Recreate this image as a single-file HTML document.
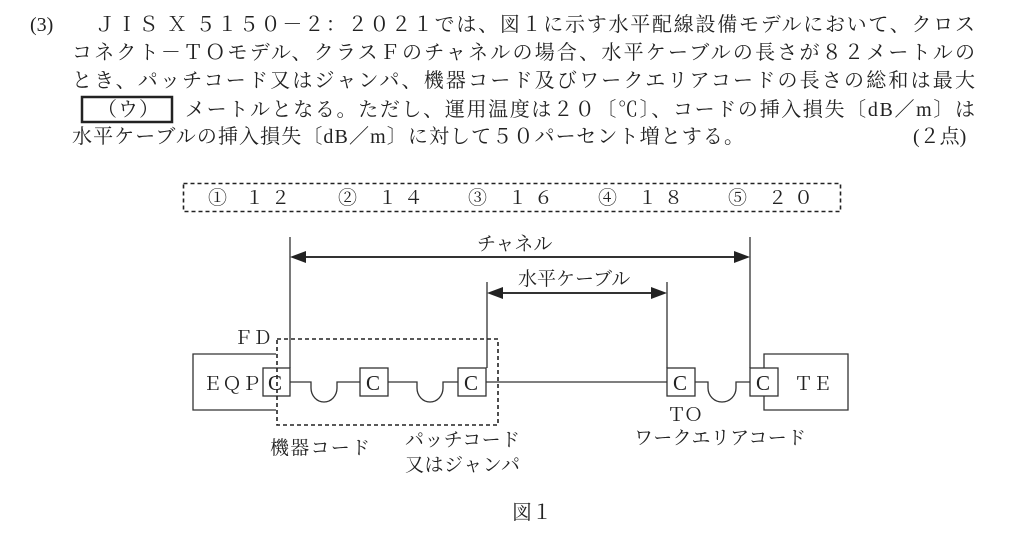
<!DOCTYPE html>
<html><head><meta charset="utf-8"><style>
html,body{margin:0;padding:0;background:#fff;width:1024px;height:541px;overflow:hidden}
svg{display:block}
text{font-family:"Liberation Serif","Noto Serif CJK SC","Noto Sans CJK JP",serif;fill:#222}
</style></head><body>
<svg width="1024" height="541" viewBox="0 0 1024 541" xmlns="http://www.w3.org/2000/svg">
<g font-size="20">
<text x="30" y="31">(3)</text>
<text x="95" y="31" textLength="880" lengthAdjust="spacing">ＪＩＳ Ｘ ５１５０－２：２０２１では、図１に示す水平配線設備モデルにおいて、クロス</text>
<text x="72" y="59" textLength="903" lengthAdjust="spacing">コネクト－ＴＯモデル、クラスＦのチャネルの場合、水平ケーブルの長さが８２メートルの</text>
<text x="72" y="87" textLength="903" lengthAdjust="spacing">とき、パッチコード又はジャンパ、機器コード及びワークエリアコードの長さの総和は最大</text>
<rect x="82" y="97" width="90" height="25" fill="none" stroke="#222" stroke-width="2.5"/>
<text x="97" y="116" textLength="62" lengthAdjust="spacing">（ウ）</text>
<text x="185" y="116" textLength="790" lengthAdjust="spacing">メートルとなる。ただし、運用温度は２０〔℃〕、コードの挿入損失〔dB／m〕は</text>
<text x="72" y="143" textLength="672" lengthAdjust="spacing">水平ケーブルの挿入損失〔dB／m〕に対して５０パーセント増とする。</text>
<text x="913" y="143">(２点)</text>
</g>
<rect x="183.5" y="183.5" width="657" height="28" fill="none" stroke="#222" stroke-width="1.6" stroke-dasharray="4,3"/>
<g font-size="19">
<text x="208" y="204">①</text><text x="245" y="204" textLength="45">１２</text>
<text x="338" y="204">②</text><text x="378" y="204" textLength="45">１４</text>
<text x="468" y="204">③</text><text x="508" y="204" textLength="45">１６</text>
<text x="598" y="204">④</text><text x="638" y="204" textLength="45">１８</text>
<text x="728" y="204">⑤</text><text x="768" y="204" textLength="45">２０</text>
</g>
<g stroke="#333" stroke-width="1.3" fill="none">
<line x1="290" y1="237" x2="290" y2="368"/>
<line x1="750" y1="237" x2="750" y2="368"/>
<line x1="487" y1="282" x2="487" y2="368"/>
<line x1="667" y1="282" x2="667" y2="368"/>
<line x1="300" y1="257" x2="740" y2="257" stroke-width="2"/>
<line x1="497" y1="293" x2="657" y2="293" stroke-width="2"/>
<path d="M276,354 H193 V410 H276"/>
<path d="M764,368 V354 H848 V410 H764 V396"/>
<rect x="263" y="368" width="27" height="28"/>
<rect x="360" y="368" width="28" height="28"/>
<rect x="458" y="368" width="28" height="28"/>
<rect x="667" y="368" width="28" height="28"/>
<rect x="750" y="368" width="28" height="28"/>
<path d="M290,382 H311 V388 A13,14 0 0 0 337,388 V382 H360"/>
<path d="M388,382 H417 V388 A13,14 0 0 0 443,388 V382 H458"/>
<path d="M486,382 H667"/>
<path d="M695,382 H708 V388 A14,14 0 0 0 736,388 V382 H750"/>
<rect x="277" y="339" width="221" height="86" stroke-dasharray="4,3" stroke-width="1.6" stroke="#222"/>
</g>
<g fill="#222">
<polygon points="290,257 306,251 306,263"/>
<polygon points="750,257 734,251 734,263"/>
<polygon points="487,293 503,287 503,299"/>
<polygon points="667,293 651,287 651,299"/>
</g>
<g font-size="19">
<text x="477" y="250">チャネル</text>
<text x="518" y="285">水平ケーブル</text>
<text x="234" y="344" textLength="38">ＦＤ</text>
<text x="203" y="390" textLength="58">ＥＱＰ</text>
</g>
<g font-size="21">
<text x="268" y="390">C</text><text x="366" y="390">C</text><text x="464" y="390">C</text>
<text x="673" y="390">C</text><text x="756" y="390">C</text>
</g>
<g font-size="19">
<text x="794" y="390" textLength="38">ＴＥ</text>
<text x="667" y="421" textLength="36">ＴＯ</text>
<text x="270" y="454" textLength="100">機器コード</text>
<text x="405" y="446" textLength="115">パッチコード</text>
<text x="405" y="471" textLength="115">又はジャンパ</text>
<text x="634" y="444" textLength="172">ワークエリアコード</text>
<text x="512" y="519" font-size="20">図１</text>
</g>
</svg>
</body></html>
